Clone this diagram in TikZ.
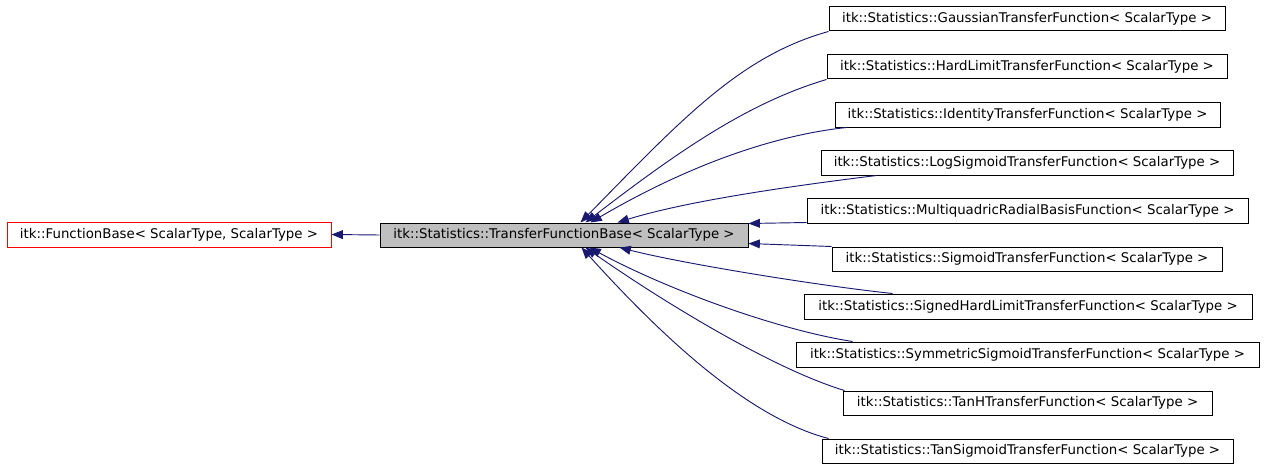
\documentclass[tikz,border=0pt]{standalone}
\usepackage{fontspec}
\setmainfont{DejaVu Sans}
\usetikzlibrary{arrows.meta,calc}
\definecolor{edgeblue}{RGB}{25,25,112}
\definecolor{basegray}{RGB}{191,191,191}
\newcommand{\bx}[7][]{%
  \node[box, #1, minimum width={(#5-#3)*0.75pt}, minimum height={(#6-#4)*0.75pt}]
    (#2) at ({(#3+#5)/2},{(#4+#6)/2}) {#7};}
\begin{document}
\begin{tikzpicture}[x=0.75pt,y=-0.75pt,
  box/.style={draw=black, line width=0.75pt, inner sep=0pt, fill=white,
    font=\fontsize{10pt}{12pt}\selectfont, text=black},
  inh/.style={draw=edgeblue, line width=0.7pt,
    -{Triangle[length=8.5pt,width=6.6pt]}, color=edgeblue}]
\useasboundingbox (0,0) rectangle (1264,467);
% nodes
\bx[draw=red]{f}{7}{222}{331}{247}{itk::FunctionBase< ScalarType, ScalarType >}
\bx[fill=basegray]{b}{380}{223}{748}{247}{itk::Statistics::TransferFunctionBase< ScalarType >}
\bx{g}{829}{7}{1225}{31}{itk::Statistics::GaussianTransferFunction< ScalarType >}
\bx{h}{827}{55}{1227}{79}{itk::Statistics::HardLimitTransferFunction< ScalarType >}
\bx{i}{835}{103}{1220}{127}{itk::Statistics::IdentityTransferFunction< ScalarType >}
\bx{l}{821}{150}{1233}{175}{itk::Statistics::LogSigmoidTransferFunction< ScalarType >}
\bx{m}{807}{198}{1248}{223}{itk::Statistics::MultiquadricRadialBasisFunction< ScalarType >}
\bx{s}{832}{247}{1222}{271}{itk::Statistics::SigmoidTransferFunction< ScalarType >}
\bx{sh}{804}{294}{1252}{319}{itk::Statistics::SignedHardLimitTransferFunction< ScalarType >}
\bx{sy}{796}{342}{1259}{367}{itk::Statistics::SymmetricSigmoidTransferFunction< ScalarType >}
\bx{th}{843}{391}{1212}{415}{itk::Statistics::TanHTransferFunction< ScalarType >}
\bx{ts}{822}{439}{1233}{463}{itk::Statistics::TanSigmoidTransferFunction< ScalarType >}
% edges
\draw[inh] (g.south west) .. controls (740,56) and (681,120) .. ($(b.north west)+(201,0)$);
\draw[inh] (h.south west) .. controls (747,103) and (676,153) .. ($(b.north west)+(206,0)$);
\draw[inh] ($(i.south west)+(12,0)$) .. controls (767,136) and (680,170) .. ($(b.north west)+(211,0)$);
\draw[inh] ($(l.south west)+(56,0)$) .. controls (800,185) and (690,200) .. ($(b.north west)+(238,0)$);
\draw[inh] ($(m.south west)+(0,-1)$) -- ($(b.north east)+(0,1)$);
\draw[inh] (s.north west) -- ($(b.south east)+(0,-4)$);
\draw[inh] ($(sh.north west)+(89,0)$) .. controls (813,285) and (680,263) .. ($(b.south west)+(240,0)$);
\draw[inh] ($(sy.north west)+(57,0)$) .. controls (773,329) and (662,287) .. ($(b.south west)+(210,0)$);
\draw[inh] ($(th.north west)+(2,0)$) .. controls (770,368) and (656,297) .. ($(b.south west)+(206,0)$);
\draw[inh] ($(ts.north west)+(7,0)$) .. controls (750,418) and (665,340) .. ($(b.south west)+(202,0)$);
\draw[inh] (b.west) -- (f.east);
\end{tikzpicture}
\end{document}
